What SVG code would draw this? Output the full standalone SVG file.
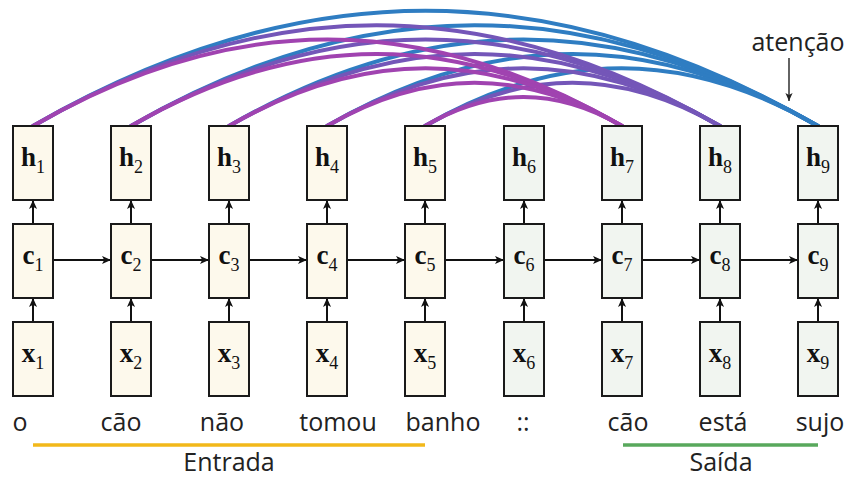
<svg xmlns="http://www.w3.org/2000/svg" width="850" height="480" viewBox="0 0 850 480">
  <style>
    .enc { fill: #fdf9ec; stroke: #1a1a1a; stroke-width: 2; }
    .dec { fill: #f1f5f0; stroke: #1a1a1a; stroke-width: 2; }
    .v { font-family: "Liberation Serif", "DejaVu Serif", serif; font-weight: bold; font-size: 27px; fill: #111; }
    .s { font-family: "Liberation Serif", "DejaVu Serif", serif; font-size: 18px; fill: #111; }
    .word { font-family: "Open Sans", "Noto Sans", sans-serif; font-size: 25px; fill: #222; text-anchor: middle; }
    .flow { stroke: #111; stroke-width: 2; fill: none; marker-end: url(#tip); }
    .att { fill: none; stroke-width: 4; stroke-linecap: round; }
    .a7 { stroke: #a043b0; }
    .a8 { stroke: #7456b8; }
    .a9 { stroke: #2f7dc2; }
  </style>
  <defs>
    <marker id="tip" viewBox="0 0 10 10" refX="10" refY="5" markerUnits="userSpaceOnUse" markerWidth="9" markerHeight="9" orient="auto">
      <path d="M0,0.5 L10,5 L0,9.5 L2.5,5 z" fill="#111"/>
    </marker>
    <marker id="tipThin" viewBox="0 0 10 10" refX="10" refY="5" markerUnits="userSpaceOnUse" markerWidth="8" markerHeight="8" orient="auto">
      <path d="M0,0.5 L10,5 L0,9.5 L2.5,5 z" fill="#222"/>
    </marker>
  </defs>

  <rect width="850" height="480" fill="#ffffff"/>

  <!-- attention arcs: h1..h5 to h9, h8, h7 (drawn back to front) -->
  <g id="connectors">
    <g id="attention">
      <path class="att a9" d="M33,126 C299.2,-27.7 551.8,-27.7 818,126"/>
      <path class="att a9" d="M131,126 C363.9,-8.5 585.1,-8.5 818,126"/>
      <path class="att a9" d="M229,126 C428.7,10.7 618.3,10.7 818,126"/>
      <path class="att a9" d="M327,126 C493.5,29.9 651.5,29.9 818,126"/>
      <path class="att a9" d="M425,126 C558.3,49.1 684.7,49.1 818,126"/>
      <path class="att a8" d="M33,126 C265.9,-8.5 487.1,-8.5 720,126"/>
      <path class="att a8" d="M131,126 C330.7,10.7 520.3,10.7 720,126"/>
      <path class="att a8" d="M229,126 C395.5,29.9 553.5,29.9 720,126"/>
      <path class="att a8" d="M327,126 C460.3,49.1 586.7,49.1 720,126"/>
      <path class="att a8" d="M425,126 C525,68.3 620,68.3 720,126"/>
      <path class="att a7" d="M33,126 C232.7,10.7 422.3,10.7 622,126"/>
      <path class="att a7" d="M131,126 C297.5,29.9 455.5,29.9 622,126"/>
      <path class="att a7" d="M229,126 C362.3,49.1 488.7,49.1 622,126"/>
      <path class="att a7" d="M327,126 C427,68.3 522,68.3 622,126"/>
      <path class="att a7" d="M425,126 C491.8,87.4 555.2,87.4 622,126"/>
    </g>
    <g id="recurrence">
      <line class="flow" x1="53" y1="260" x2="111" y2="260"/>
      <line class="flow" x1="151" y1="260" x2="209" y2="260"/>
      <line class="flow" x1="249" y1="260" x2="307" y2="260"/>
      <line class="flow" x1="347" y1="260" x2="405" y2="260"/>
      <line class="flow" x1="445" y1="260" x2="504" y2="260"/>
      <line class="flow" x1="544" y1="260" x2="602" y2="260"/>
      <line class="flow" x1="642" y1="260" x2="700" y2="260"/>
      <line class="flow" x1="740" y1="260" x2="798" y2="260"/>
    </g>
    <g id="vertical">
      <line class="flow" x1="33" y1="322" x2="33" y2="298"/>
      <line class="flow" x1="33" y1="224" x2="33" y2="200"/>
      <line class="flow" x1="131" y1="322" x2="131" y2="298"/>
      <line class="flow" x1="131" y1="224" x2="131" y2="200"/>
      <line class="flow" x1="229" y1="322" x2="229" y2="298"/>
      <line class="flow" x1="229" y1="224" x2="229" y2="200"/>
      <line class="flow" x1="327" y1="322" x2="327" y2="298"/>
      <line class="flow" x1="327" y1="224" x2="327" y2="200"/>
      <line class="flow" x1="425" y1="322" x2="425" y2="298"/>
      <line class="flow" x1="425" y1="224" x2="425" y2="200"/>
      <line class="flow" x1="524" y1="322" x2="524" y2="298"/>
      <line class="flow" x1="524" y1="224" x2="524" y2="200"/>
      <line class="flow" x1="622" y1="322" x2="622" y2="298"/>
      <line class="flow" x1="622" y1="224" x2="622" y2="200"/>
      <line class="flow" x1="720" y1="322" x2="720" y2="298"/>
      <line class="flow" x1="720" y1="224" x2="720" y2="200"/>
      <line class="flow" x1="818" y1="322" x2="818" y2="298"/>
      <line class="flow" x1="818" y1="224" x2="818" y2="200"/>
    </g>
  </g>

  <!-- encoder columns -->
  <g id="h1"><rect class="enc" x="13" y="126" width="40" height="74"/><text x="33" y="166" text-anchor="middle"><tspan class="v">h</tspan><tspan class="s" dy="7">1</tspan></text></g>
  <g id="c1"><rect class="enc" x="13" y="224" width="40" height="74"/><text x="33" y="264" text-anchor="middle"><tspan class="v">c</tspan><tspan class="s" dy="7">1</tspan></text></g>
  <g id="x1"><rect class="enc" x="13" y="322" width="40" height="74"/><text x="33" y="362" text-anchor="middle"><tspan class="v">x</tspan><tspan class="s" dy="7">1</tspan></text></g>

  <g id="h2"><rect class="enc" x="111" y="126" width="40" height="74"/><text x="131" y="166" text-anchor="middle"><tspan class="v">h</tspan><tspan class="s" dy="7">2</tspan></text></g>
  <g id="c2"><rect class="enc" x="111" y="224" width="40" height="74"/><text x="131" y="264" text-anchor="middle"><tspan class="v">c</tspan><tspan class="s" dy="7">2</tspan></text></g>
  <g id="x2"><rect class="enc" x="111" y="322" width="40" height="74"/><text x="131" y="362" text-anchor="middle"><tspan class="v">x</tspan><tspan class="s" dy="7">2</tspan></text></g>

  <g id="h3"><rect class="enc" x="209" y="126" width="40" height="74"/><text x="229" y="166" text-anchor="middle"><tspan class="v">h</tspan><tspan class="s" dy="7">3</tspan></text></g>
  <g id="c3"><rect class="enc" x="209" y="224" width="40" height="74"/><text x="229" y="264" text-anchor="middle"><tspan class="v">c</tspan><tspan class="s" dy="7">3</tspan></text></g>
  <g id="x3"><rect class="enc" x="209" y="322" width="40" height="74"/><text x="229" y="362" text-anchor="middle"><tspan class="v">x</tspan><tspan class="s" dy="7">3</tspan></text></g>

  <g id="h4"><rect class="enc" x="307" y="126" width="40" height="74"/><text x="327" y="166" text-anchor="middle"><tspan class="v">h</tspan><tspan class="s" dy="7">4</tspan></text></g>
  <g id="c4"><rect class="enc" x="307" y="224" width="40" height="74"/><text x="327" y="264" text-anchor="middle"><tspan class="v">c</tspan><tspan class="s" dy="7">4</tspan></text></g>
  <g id="x4"><rect class="enc" x="307" y="322" width="40" height="74"/><text x="327" y="362" text-anchor="middle"><tspan class="v">x</tspan><tspan class="s" dy="7">4</tspan></text></g>

  <g id="h5"><rect class="enc" x="405" y="126" width="40" height="74"/><text x="425" y="166" text-anchor="middle"><tspan class="v">h</tspan><tspan class="s" dy="7">5</tspan></text></g>
  <g id="c5"><rect class="enc" x="405" y="224" width="40" height="74"/><text x="425" y="264" text-anchor="middle"><tspan class="v">c</tspan><tspan class="s" dy="7">5</tspan></text></g>
  <g id="x5"><rect class="enc" x="405" y="322" width="40" height="74"/><text x="425" y="362" text-anchor="middle"><tspan class="v">x</tspan><tspan class="s" dy="7">5</tspan></text></g>

  <!-- decoder columns -->
  <g id="h6"><rect class="dec" x="504" y="126" width="40" height="74"/><text x="524" y="166" text-anchor="middle"><tspan class="v">h</tspan><tspan class="s" dy="7">6</tspan></text></g>
  <g id="c6"><rect class="dec" x="504" y="224" width="40" height="74"/><text x="524" y="264" text-anchor="middle"><tspan class="v">c</tspan><tspan class="s" dy="7">6</tspan></text></g>
  <g id="x6"><rect class="dec" x="504" y="322" width="40" height="74"/><text x="524" y="362" text-anchor="middle"><tspan class="v">x</tspan><tspan class="s" dy="7">6</tspan></text></g>

  <g id="h7"><rect class="dec" x="602" y="126" width="40" height="74"/><text x="622" y="166" text-anchor="middle"><tspan class="v">h</tspan><tspan class="s" dy="7">7</tspan></text></g>
  <g id="c7"><rect class="dec" x="602" y="224" width="40" height="74"/><text x="622" y="264" text-anchor="middle"><tspan class="v">c</tspan><tspan class="s" dy="7">7</tspan></text></g>
  <g id="x7"><rect class="dec" x="602" y="322" width="40" height="74"/><text x="622" y="362" text-anchor="middle"><tspan class="v">x</tspan><tspan class="s" dy="7">7</tspan></text></g>

  <g id="h8"><rect class="dec" x="700" y="126" width="40" height="74"/><text x="720" y="166" text-anchor="middle"><tspan class="v">h</tspan><tspan class="s" dy="7">8</tspan></text></g>
  <g id="c8"><rect class="dec" x="700" y="224" width="40" height="74"/><text x="720" y="264" text-anchor="middle"><tspan class="v">c</tspan><tspan class="s" dy="7">8</tspan></text></g>
  <g id="x8"><rect class="dec" x="700" y="322" width="40" height="74"/><text x="720" y="362" text-anchor="middle"><tspan class="v">x</tspan><tspan class="s" dy="7">8</tspan></text></g>

  <g id="h9"><rect class="dec" x="798" y="126" width="40" height="74"/><text x="818" y="166" text-anchor="middle"><tspan class="v">h</tspan><tspan class="s" dy="7">9</tspan></text></g>
  <g id="c9"><rect class="dec" x="798" y="224" width="40" height="74"/><text x="818" y="264" text-anchor="middle"><tspan class="v">c</tspan><tspan class="s" dy="7">9</tspan></text></g>
  <g id="x9"><rect class="dec" x="798" y="322" width="40" height="74"/><text x="818" y="362" text-anchor="middle"><tspan class="v">x</tspan><tspan class="s" dy="7">9</tspan></text></g>

  <!-- token labels -->
  <g id="tokens">
    <text class="word" x="20" y="431">o</text>
    <text class="word" x="121" y="431">cão</text>
    <text class="word" x="222" y="431">não</text>
    <text class="word" x="338" y="431">tomou</text>
    <text class="word" x="443" y="431">banho</text>
    <text class="word" x="523" y="431">::</text>
    <text class="word" x="628" y="431">cão</text>
    <text class="word" x="723" y="431">está</text>
    <text class="word" x="820" y="431">sujo</text>
  </g>

  <!-- input / output spans -->
  <g id="entrada">
    <line x1="33" y1="445" x2="425" y2="445" stroke="#f2b81a" stroke-width="3.5"/>
    <text class="word" x="229" y="471">Entrada</text>
  </g>
  <g id="saida">
    <line x1="623" y1="445" x2="818" y2="445" stroke="#58a85c" stroke-width="3.5"/>
    <text class="word" x="721" y="471">Saída</text>
  </g>

  <!-- attention callout -->
  <g id="atencao">
    <text class="word" x="798" y="51">atenção</text>
    <line x1="789" y1="58" x2="789" y2="101" stroke="#222" stroke-width="1.4" marker-end="url(#tipThin)"/>
  </g>
</svg>
